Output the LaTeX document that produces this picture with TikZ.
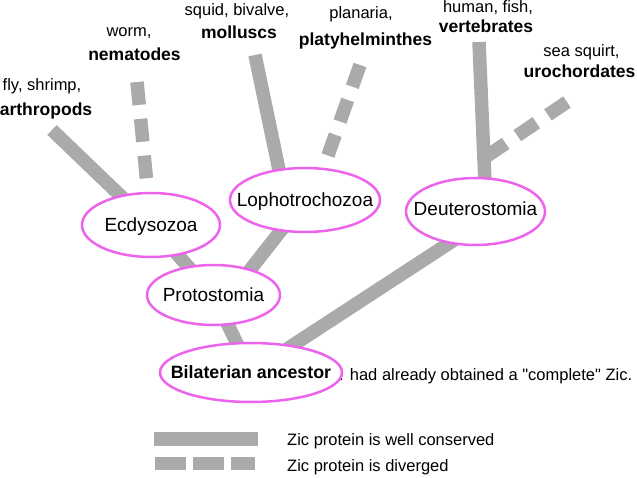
\documentclass[tikz,border=0pt]{standalone}
\usepackage{fontspec}
\setmainfont{Liberation Sans}
\usetikzlibrary{shapes.geometric,backgrounds,calc}
\definecolor{branchgray}{RGB}{170,170,170}
\definecolor{cladepink}{RGB}{236,100,236}
\tikzset{
  clade/.style={ellipse, draw=cladepink, line width=2.5pt, fill=white, inner sep=0pt},
  cladetext/.style={font=\fontsize{19}{22}\selectfont, text height=13.6pt, text depth=0pt, inner sep=0pt},
  branch/.style={draw=branchgray, line width=13.5pt},
  divbranch/.style={branch, dash pattern=on 23pt off 14pt},
  common/.style={font=\fontsize{16.5}{19}\selectfont, inner sep=0pt, anchor=base},
  taxon/.style={font=\fontsize{17.5}{20}\selectfont\bfseries, inner sep=0pt, anchor=base}
}
\begin{document}
\begin{tikzpicture}[x=1pt,y=-1pt]
\useasboundingbox (0,0) rectangle (637,478);
% groups of species
\node[common] (arthcom) at (42,91) {fly, shrimp,};
\node[taxon] (arthname) at (46,116) {arthropods};
\node[common] (nemcom) at (129,37) {worm,};
\node[taxon] (nemname) at (134.5,61) {nematodes};
\node[common] (molcom) at (237,15.5) {squid, bivalve,};
\node[taxon] (molname) at (239,39) {molluscs};
\node[common] (placom) at (361,19) {planaria,};
\node[taxon] (planame) at (365.5,46) {platyhelminthes};
\node[common] (vercom) at (488,12.5) {human, fish,};
\node[taxon] (vername) at (486,32.5) {vertebrates};
\node[common] (urocom) at (581.5,57) {sea squirt,};
\node[taxon] (uroname) at (579.5,78) {urochordates};
\node[common, anchor=base west] (note) at (339,380.5) {. had already obtained a \textquotedbl complete\textquotedbl\ Zic.};
% clades
\node[clade, minimum width=138pt, minimum height=64pt,
  label={[cladetext]center:Ecdysozoa}] (ecdy) at (151,225) {};
\node[clade, minimum width=150pt, minimum height=64pt,
  label={[cladetext]center:Lophotrochozoa}] (lopho) at (305,200) {};
\node[clade, minimum width=139pt, minimum height=67pt,
  label={[cladetext, yshift=3pt]center:Deuterostomia}] (deut) at (475.5,211.5) {};
\node[clade, minimum width=133pt, minimum height=60pt,
  label={[cladetext]center:Protostomia}] (proto) at (213.5,295) {};
\node[clade, minimum width=182pt, minimum height=59pt,
  label={[cladetext, font=\fontsize{17.8}{20}\selectfont\bfseries, text height=12.8pt]center:Bilaterian ancestor}] (bilat) at (251,372.5) {};
% branch tips
\coordinate (arthtip) at (52,130);
\coordinate (nemtip) at (137,82);
\coordinate (moltip) at (255,55);
\coordinate (platip) at (360,65);
\coordinate (vertip) at (479,42);
\coordinate (urotip) at (567,102);
\coordinate (urojoin) at ($(vertip)!0.86!(deut.75)$);
\begin{scope}[on background layer]
\draw[branch] (arthtip) -- (ecdy.center);
\draw[divbranch, shorten >=47pt] (nemtip) -- (ecdy.center);
\draw[branch, shorten >=-10pt] (moltip) -- (lopho.130);
\draw[divbranch, shorten >=13pt] (platip) -- (lopho.60);
\draw[branch, shorten >=-10pt] (vertip) -- (deut.75);
\draw[divbranch] (urotip) -- (urojoin);
\draw[branch] (ecdy.center) -- (proto.center);
\draw[branch, shorten >=-10pt] (lopho.center) -- (proto.35);
\draw[branch] (proto.center) -- (bilat.center);
\draw[branch, shorten <=-10pt] (deut.230) -- (bilat.center);
\end{scope}
% key
\coordinate (keyA) at (154,439);
\coordinate (keyB) at (258,439);
\coordinate (keyC) at (155,463);
\coordinate (keyD) at (255,463);
\draw[branch, line width=14pt] (keyA) -- (keyB);
\draw[branch, line width=13pt, dash pattern=on 31pt off 7pt] (keyC) -- (keyD);
\node[common, anchor=base west] (keycons) at (287,445) {Zic protein is well conserved};
\node[common, anchor=base west] (keydiv) at (287,471) {Zic protein is diverged};
\end{tikzpicture}
\end{document}
